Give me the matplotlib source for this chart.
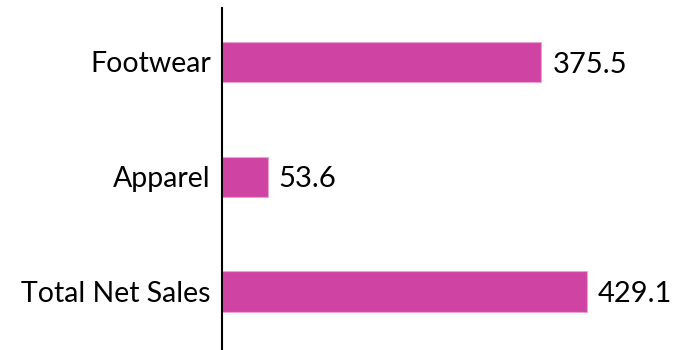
import matplotlib
matplotlib.use("Agg")
import matplotlib.pyplot as plt

categories = ["Total Net Sales", "Apparel", "Footwear"]
values = [429.1, 53.6, 375.5]
labels = ["429.1", "53.6", "375.5"]

plt.rcParams['font.family'] = ['Lato', 'DejaVu Sans']

fig = plt.figure(figsize=(6.76, 3.5), dpi=100)
# axes from x=222px to right edge, y=8px to bottom
ax = fig.add_axes([222 / 676, 0.0, 1 - 222 / 676, 342 / 350])

pos = list(range(len(categories)))
bars = ax.barh(pos, values, height=0.35, color="#CF44A3", edgecolor="#E9A3D1", linewidth=0.8)

ax.set_xlim(0, 533.7)
ax.set_ylim(-0.51, 2.47)
ax.set_yticks(pos)
ax.set_yticklabels(categories, fontsize=20.5)
ax.tick_params(axis="y", length=0, pad=8)
ax.set_xticks([])

for s in ["top", "right", "bottom"]:
    ax.spines[s].set_visible(False)
ax.spines["left"].set_linewidth(1.5)
ax.spines["left"].set_color("black")

for b, lab in zip(bars, labels):
    ax.annotate(lab, (b.get_width(), b.get_y() + b.get_height() / 2),
                xytext=(8, -2), textcoords="offset points",
                ha="left", va="center", fontsize=21)

fig.savefig("out.png", dpi=100)
